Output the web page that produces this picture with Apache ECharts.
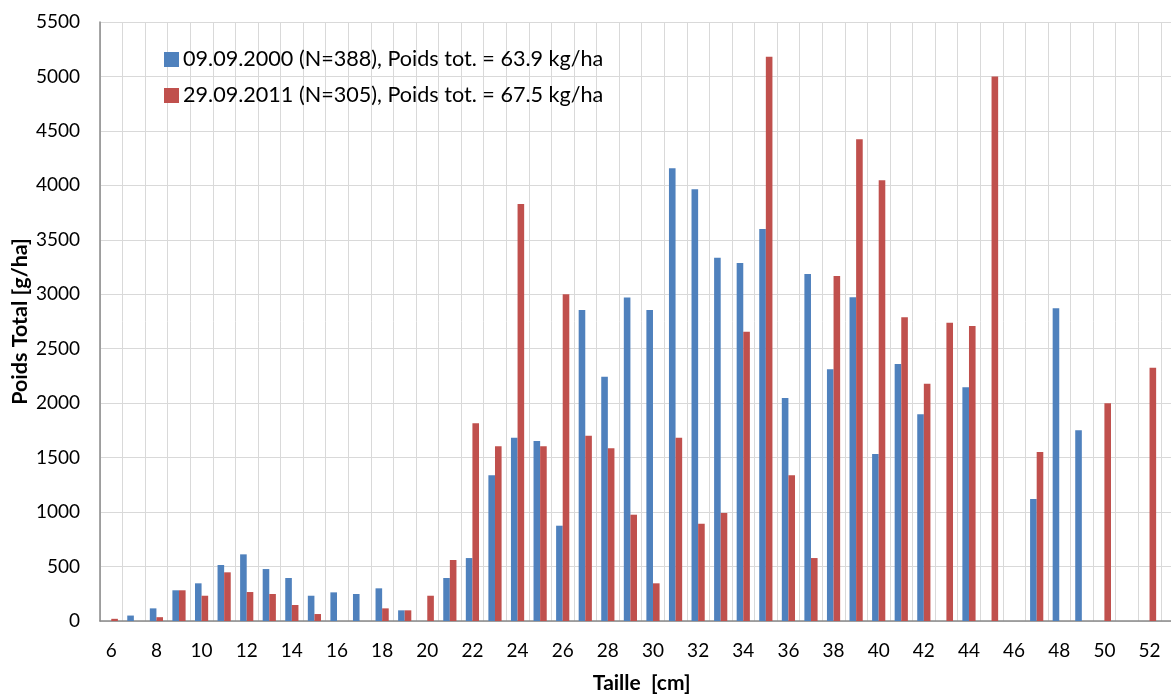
<!DOCTYPE html>
<html>
<head>
<meta charset="utf-8">
<script src="https://cdn.jsdelivr.net/npm/echarts@6/dist/echarts.min.js"></script>
<style>
html,body{margin:0;padding:0;background:#fff;}
#chart{width:1171px;height:697px;}
</style>
</head>
<body>
<div id="chart"></div>
<script>
// Size classes (cm), 6..53 (53 is an empty class at the cropped right edge)
const categories = ['6','7','8','9','10','11','12','13','14','15','16','17','18','19','20','21','22','23','24','25','26','27','28','29','30','31','32','33','34','35','36','37','38','39','40','41','42','43','44','45','46','47','48','49','50','51','52','53'];

const seriesNames = [
  '09.09.2000 (N=388), Poids tot. = 63.9 kg/ha',
  '29.09.2011 (N=305), Poids tot. = 67.5 kg/ha'
];

// Poids total [g/ha]
const values2000 = [null,50,116,282,346,514,612,477,395,232,263,248,300,98,null,395,578,1338,1683,1653,875,2856,2243,2970,2856,4156,3964,3336,3287,3599,2048,3186,2311,2972,1533,2360,1898,null,2146,null,null,1120,2871,1751,null,null,null,null];
const values2011 = [20,null,35,282,232,447,266,248,147,64,null,null,116,98,232,560,1815,1604,3829,1604,3000,1702,1586,976,346,1683,893,992,2656,5182,1338,578,3168,4423,4046,2789,2179,2739,2709,5000,null,1552,null,null,2000,null,2326,null];

const yTicks = {min: 0, max: 5500, interval: 500};

const FONT = 'Lato, "Liberation Sans", sans-serif';
const chart = echarts.init(document.getElementById('chart'), null, {renderer: 'canvas'});
chart.setOption({
  animation: false,
  backgroundColor: '#ffffff',
  color: ['#4F81BD', '#C0504D'],
  grid: {left: 100, top: 22, bottom: 76, right: -12.4, containLabel: false, outerBoundsMode: 'none'},
  legend: {
    orient: 'vertical',
    left: 159,
    top: 43.5,
    itemWidth: 15,
    itemHeight: 15,
    itemGap: 14,
    icon: 'rect',
    textStyle: {fontFamily: FONT, fontSize: 21.6, color: '#000', lineHeight: 22, padding: [0,0,0,-1]},
    data: seriesNames
  },
  xAxis: {
    type: 'category',
    data: categories,
    boundaryGap: true,
    name: 'Taille  [cm]',
    nameLocation: 'middle',
    nameGap: 52,
    nameMoveOverlap: false,
    nameTextStyle: {fontFamily: FONT, fontSize: 21, fontWeight: 'bold', color: '#000'},
    axisLine: {show: true, lineStyle: {color: '#898989', width: 1.5}},
    axisTick: {show: false},
    axisLabel: {interval: 1, margin: 20, fontFamily: FONT, fontSize: 19, color: '#000'},
    splitLine: {show: true, interval: 0, lineStyle: {color: '#d9d9d9', width: 1}}
  },
  yAxis: {
    type: 'value',
    min: yTicks.min,
    max: yTicks.max,
    interval: yTicks.interval,
    name: 'Poids Total [g/ha]',
    nameLocation: 'middle',
    nameGap: 69,
    nameMoveOverlap: false,
    nameTextStyle: {fontFamily: FONT, fontSize: 21.5, fontWeight: 'bold', color: '#000'},
    axisLine: {show: true, lineStyle: {color: '#898989', width: 1.5}},
    axisTick: {show: false},
    axisLabel: {margin: 20, fontFamily: FONT, fontSize: 19, color: '#000', formatter: v => String(v)},
    splitLine: {show: true, lineStyle: {color: '#d9d9d9', width: 1}}
  },
  series: [
    {name: seriesNames[0], type: 'bar', data: values2000, barWidth: 6.6, barGap: '0%'},
    {name: seriesNames[1], type: 'bar', data: values2011, barWidth: 6.6, barGap: '0%'}
  ]
});
</script>
</body>
</html>
